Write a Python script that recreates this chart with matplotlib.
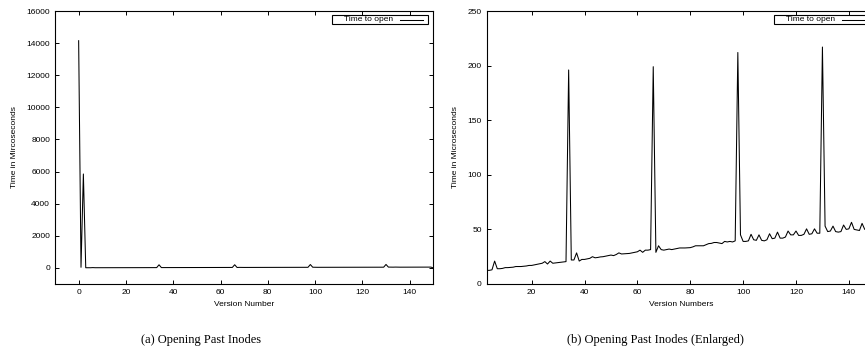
import numpy as np
import matplotlib
matplotlib.use('Agg')
import matplotlib.pyplot as plt
from matplotlib.patches import Rectangle
from matplotlib.lines import Line2D

# open time per version number (microseconds)
versions = list(range(0, 151))
open_time = [
    14150, 40, 5850, 12.5, 12.5, 13, 21, 14, 14, 14.3,          # 0-9
    15, 15, 15.2, 15.4, 16, 16, 16, 16.2, 16.5, 17,             # 10-19
    17, 17.5, 18, 18.5, 19, 20.5, 18.3, 21, 19, 19.3,           # 20-29
    19.5, 20, 20.2, 20.5, 196, 22, 22, 28.5, 21, 22.5,          # 30-39
    22.5, 23, 23.5, 25, 24, 24.3, 24.8, 25, 25.5, 26,           # 40-49
    26.5, 26, 27, 28.5, 27.5, 27.7, 27.8, 28, 28.5, 29,         # 50-59
    29.5, 31, 29, 31, 31, 31.5, 199, 29, 35, 31.5,              # 60-69
    31, 31.5, 32, 31.5, 32, 32.5, 33, 33, 33, 33.2,             # 70-79
    33.3, 34, 35, 35, 35, 35, 36, 37, 37.2, 38,                 # 80-89
    38, 37.5, 37, 39, 38.5, 39, 38.5, 39.5, 212, 45,            # 90-99
    39, 39, 39.5, 45.5, 40.5, 40, 45, 40, 39.5, 40.5,           # 100-109
    46, 41.5, 42, 47.5, 42, 42, 43, 48.5, 45, 45,               # 110-119
    48.5, 44.5, 44.5, 45.5, 50.5, 45.5, 46, 50.5, 46.5, 46.5,   # 120-129
    217, 53, 48, 48.5, 53, 48, 47.5, 48, 54, 50,                # 130-139
    50.5, 56.5, 50, 49.5, 49, 55.5, 50, 51, 54, 52,             # 140-149
    0,                                                          # 150
]

W, H = 865, 360
FS = 6
TOP, BOTTOM = 11, 284

plt.rcParams['font.family'] = ['Liberation Sans', 'DejaVu Sans']


def fx(px):
    return px / W


def fy(py):
    return 1 - py / H


def add_axes(fig, left, right):
    ax = fig.add_axes([fx(left), fy(BOTTOM), (right - left) / W,
                       (BOTTOM - TOP) / H])
    ax.tick_params(direction='in', top=True, right=True, length=2.9,
                   width=0.7, labelsize=FS, pad=3.5, colors='black')
    for s in ax.spines.values():
        s.set_linewidth(0.8)
    return ax


def key(fig, right, label):
    # gnuplot style key: text first, then line sample, thin box around
    cy = TOP + 8.5
    fig.add_artist(Rectangle((fx(right - 101.7), fy(TOP + 13)), 96.7 / W,
                             9 / H, transform=fig.transFigure,
                             facecolor='white', edgecolor='black', lw=0.8,
                             zorder=5))
    fig.text(fx(right - 40), fy(cy), label, ha='right', va='center',
             fontsize=FS, zorder=6)
    fig.add_artist(Line2D([fx(right - 33.3), fx(right - 10.7)],
                          [fy(cy), fy(cy)], transform=fig.transFigure,
                          color='black', lw=0.75, zorder=6))


fig = plt.figure(figsize=(W / 100, H / 100), dpi=100)

# (a) full range
ax1 = add_axes(fig, 55, 433.3)
ax1.plot(versions, open_time, color='black', lw=0.75)
ax1.set_xlim(-10, 150)
ax1.set_ylim(-1000, 16000)
ax1.set_xticks(range(0, 141, 20))
ax1.set_yticks(range(0, 16001, 2000))
ax1.set_xlabel('Version Number', fontsize=FS)
ax1.set_ylabel('Time in Mircoseconds', fontsize=FS)
ax1.yaxis.set_label_coords(-0.0965, 0.5)
key(fig, 433.3, 'Time to open')

# (b) enlarged
ax2 = add_axes(fig, 486.7, 875.3)
ax2.plot(versions, open_time, color='black', lw=0.75)
ax2.set_xlim(3, 150)
ax2.set_ylim(0, 250)
ax2.set_xticks(range(20, 141, 20))
ax2.set_yticks(range(0, 251, 50))
ax2.set_xlabel('Version Numbers', fontsize=FS)
ax2.set_ylabel('Time in Microseconds', fontsize=FS)
ax2.yaxis.set_label_coords(-0.070, 0.5)
key(fig, 875.3, 'Time to open')

cap = dict(fontsize=9, family=['Liberation Serif', 'DejaVu Serif'],
           ha='center', va='center')
fig.text(fx(201), fy(340), '(a) Opening Past Inodes', **cap)
fig.text(fx(655), fy(340), '(b) Opening Past Inodes (Enlarged)', **cap)

fig.savefig('out.png', dpi=100)
